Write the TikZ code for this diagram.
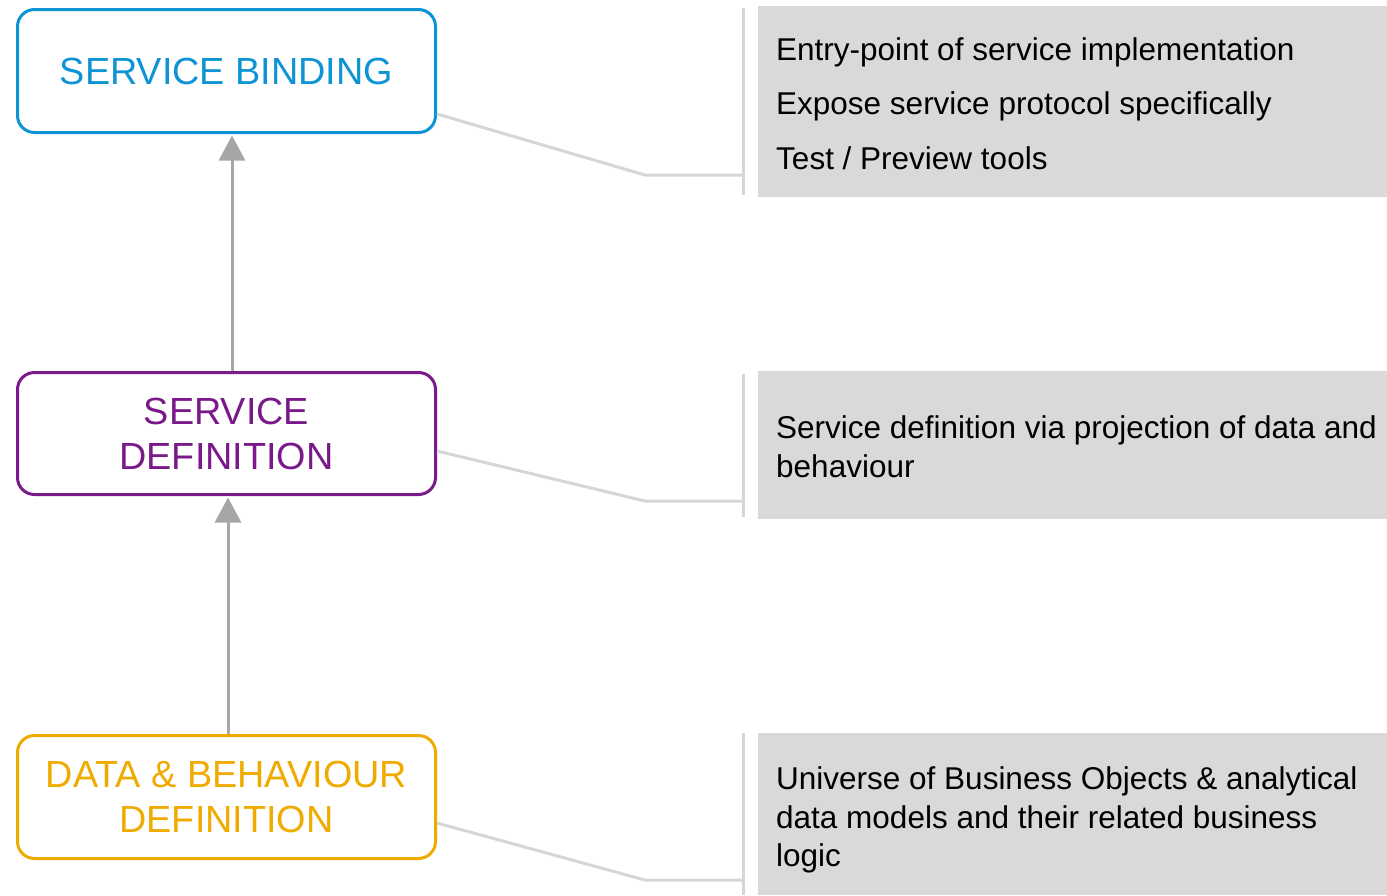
\documentclass[tikz,border=0pt]{standalone}
\usepackage{fontspec}
\setmainfont{Liberation Sans}
\usetikzlibrary{arrows.meta}
\definecolor{sapblue}{HTML}{0E94D4}
\definecolor{sappurple}{HTML}{7A1A8A}
\definecolor{sapgold}{HTML}{F0AB00}
\definecolor{arrowgray}{HTML}{A6A6A6}
\definecolor{panelgray}{HTML}{D9D9D9}
\definecolor{linegray}{HTML}{D6D6D6}
\tikzset{
  layerbox/.style={draw, line width=3pt, rounded corners=17pt, minimum width=418pt,
    inner sep=0pt, align=center, font=\fontsize{37.8}{45}\selectfont},
  uparrow/.style={draw=arrowgray, line width=3pt, -{Triangle[width=26pt,length=25pt]}},
  panel/.style={fill=panelgray, inner sep=0pt, anchor=north west, minimum width=629pt},
  paneltext/.style={anchor=base west, inner sep=0pt, text=black, font=\fontsize{31.5}{39}\selectfont},
  connector/.style={draw=linegray, line width=3pt},
  separator/.style={draw=linegray, line width=3pt},
}
\begin{document}
\begin{tikzpicture}[x=1pt,y=-1pt]
\useasboundingbox (0,0) rectangle (1387,895);

% left boxes
\node[layerbox, draw=sapblue, text=sapblue, minimum height=123pt] (b1) at (226.5,71) {SERVICE BINDING};
\node[layerbox, draw=sappurple, text=sappurple, minimum height=122pt] (b2) at (226.5,433.5) {SERVICE\\DEFINITION};
\node[layerbox, draw=sapgold, text=sapgold, minimum height=123pt] (b3) at (226.5,797) {DATA \& BEHAVIOUR\\DEFINITION};

% arrows
\draw[uparrow] ([xshift=5.5pt]b2.north) -- ([xshift=5.5pt,yshift=-1.5pt]b1.south);
\draw[uparrow] ([xshift=1.5pt]b3.north) -- ([xshift=1.5pt,yshift=-1.5pt]b2.south);

% panels
\node[panel, minimum height=191pt] (p1) at (758,6) {};
\node[panel, minimum height=148pt] (p2) at (758,371) {};
\node[panel, minimum height=162pt] (p3) at (758,733) {};

% separators
\coordinate (s1a) at (743,8);   \coordinate (s1b) at (743,195);
\coordinate (s2a) at (743,374); \coordinate (s2b) at (743,517);
\coordinate (s3a) at (743,733); \coordinate (s3b) at (743,895);
\draw[separator] (s1a) -- (s1b);
\draw[separator] (s2a) -- (s2b);
\draw[separator] (s3a) -- (s3b);

% connectors
\coordinate (k1) at (645,175);
\coordinate (k2) at (645,501);
\coordinate (k3) at (645,880);
\draw[connector] ([yshift=-43pt]b1.east) -- (k1) -- (k1 -| s1a);
\draw[connector] ([yshift=-17.5pt]b2.east) -- (k2) -- (k2 -| s2a);
\draw[connector] ([yshift=-26pt]b3.east) -- (k3) -- (k3 -| s3a);

% panel texts
\node[paneltext] (t1a) at (776,60) {Entry-point of service implementation};
\node[paneltext] (t1b) at (776,114) {Expose service protocol specifically};
\node[paneltext] (t1c) at (776,169) {Test / Preview tools};

\node[paneltext] (t2a) at (776,438) {Service definition via projection of data and};
\node[paneltext] (t2b) at (776,477) {behaviour};

\node[paneltext] (t3a) at (776,789) {Universe of Business Objects \& analytical};
\node[paneltext] (t3b) at (776,828) {data models and their related business};
\node[paneltext] (t3c) at (776,866) {logic};
\end{tikzpicture}
\end{document}
